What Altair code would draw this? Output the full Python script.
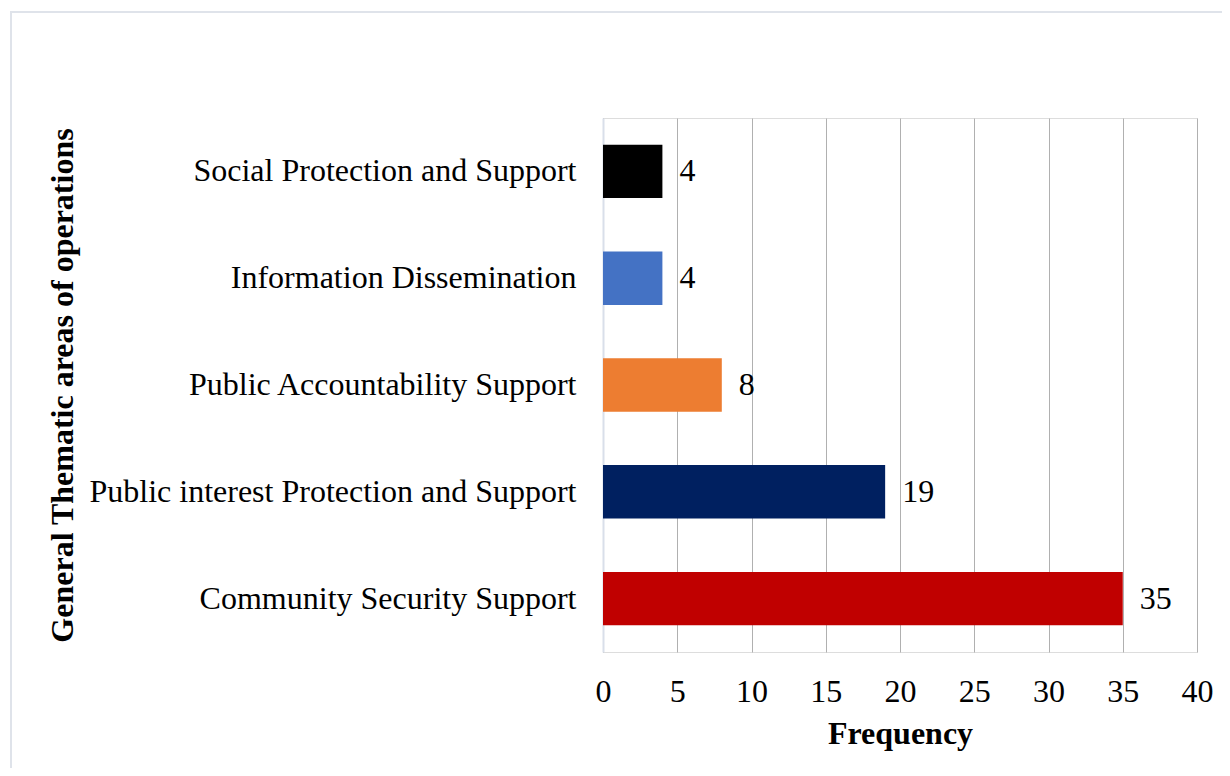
import altair as alt
import pandas as pd

categories = [
    "Social Protection and Support",
    "Information Dissemination",
    "Public Accountability Support",
    "Public interest Protection and Support",
    "Community Security Support",
]
values = [4, 4, 8, 19, 35]
colors = ["#000000", "#4472C4", "#ED7D31", "#002060", "#C00000"]

df = pd.DataFrame({"area": categories, "freq": values, "color": colors})

FONT = "Liberation Serif"
FS = 32
W, H = 594, 534

y_enc = alt.Y(
    "area:N",
    sort=categories,
    scale=alt.Scale(paddingInner=0.5, paddingOuter=0.25),
    axis=alt.Axis(
        title="General Thematic areas of operations",
        titleFont=FONT, titleFontSize=FS, titleFontWeight="bold", titleColor="#000000",
        titleAngle=-90, titleX=-541, titleY=H / 2, titleBaseline="middle", titleAlign="center",
        labelFont=FONT, labelFontSize=FS, labelColor="#000000", labelPadding=27,
        labelLimit=0, ticks=False, domain=True, domainColor="#D9DFEA", domainWidth=2,
        grid=False,
    ),
)

bars = alt.Chart(df).mark_bar().encode(
    x=alt.X(
        "freq:Q",
        scale=alt.Scale(domain=[0, 40], nice=False),
        axis=alt.Axis(
            title="Frequency", values=[0, 5, 10, 15, 20, 25, 30, 35, 40],
            titleFont=FONT, titleFontSize=FS, titleFontWeight="bold", titleColor="#000000",
            titlePadding=11,
            labelFont=FONT, labelFontSize=FS, labelColor="#000000", labelPadding=24,
            labelFlush=False, ticks=False, domain=False,
            grid=True, gridColor="#B0B0B0", gridWidth=1,
        ),
    ),
    y=y_enc,
    color=alt.Color("color:N", scale=None, legend=None),
)

labels = alt.Chart(df).mark_text(
    align="left", baseline="middle", dx=17, font=FONT, fontSize=FS, color="#000000"
).encode(
    x="freq:Q",
    y=alt.Y("area:N", sort=categories),
    text="freq:Q",
)

border = alt.Chart(pd.DataFrame({"k": [0]})).mark_rect(
    filled=False, stroke="#DFE3EA", strokeWidth=2, clip=False
).encode(
    x=alt.value(-592), x2=alt.value(640), y=alt.value(-106), y2=alt.value(680)
)

chart = alt.layer(border, bars, labels).properties(
    width=W, height=H,
    autosize=alt.AutoSizeParams(type="none"),
    padding={"left": 595, "top": 110, "right": 25, "bottom": 116},
).configure_view(stroke=None).configure(background="#FFFFFF")

chart.save("out.html", embed_options={"renderer": "svg", "actions": False})
